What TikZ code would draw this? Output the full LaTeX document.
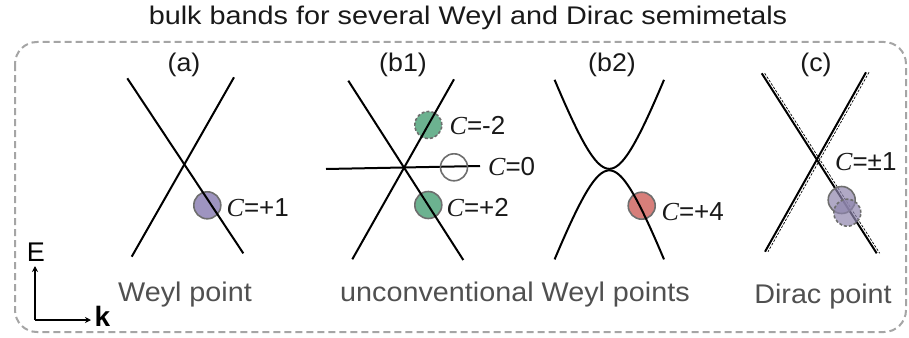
\documentclass[tikz,border=0pt]{standalone}
\usepackage{fontspec}
\setmainfont{Liberation Sans}
\newfontfamily\cfont{Liberation Serif}
\usetikzlibrary{arrows.meta}
\definecolor{boxgray}{RGB}{165,165,165}
\definecolor{bordergray}{RGB}{110,110,110}
\definecolor{labgray}{RGB}{80,80,80}
\definecolor{wpurple}{RGB}{158,148,192}
\definecolor{wgreen}{RGB}{108,178,144}
\definecolor{wred}{RGB}{215,126,122}
\newcommand{\Cq}{{\cfont\itshape C}}
\tikzset{
  band/.style={line width=2pt, black},
  chern/.style={circle, minimum size=27pt, inner sep=0pt, draw=bordergray, line width=1.6pt},
  chernlab/.style={anchor=base west, inner sep=0pt, font=\fontsize{26}{30}\selectfont, text=black!90},
  panel/.style={anchor=base, inner sep=0pt, font=\fontsize{25.5}{29}\selectfont, text=black!90},
  bottomlab/.style={anchor=base, inner sep=0pt, font=\fontsize{27}{31}\selectfont, text=labgray},
  shadow/.style={line width=0.7pt, dash pattern=on 2.5pt off 1.5pt, black}
}
\begin{document}
\begin{tikzpicture}[x=1pt,y=-1pt]
\useasboundingbox (0,0) rectangle (909,337);
% frame
\draw[boxgray, line width=2pt, dash pattern=on 7pt off 4pt, rounded corners=22pt] (15,42) rectangle (906,332);
% title
\node[anchor=base, inner sep=0pt, font=\fontsize{25.5}{29}\selectfont, text=black!90] (title) at (468,25) {\scalebox{1.13}[1]{bulk bands for several Weyl and Dirac semimetals}};
% panel labels
\node[panel] (pa) at (184,71) {\scalebox{1.05}[1]{(a)}};
\node[panel] (pb1) at (403,71) {\scalebox{1.05}[1]{(b1)}};
\node[panel] (pb2) at (612,71) {\scalebox{1.05}[1]{(b2)}};
\node[panel] (pc) at (816,71) {\scalebox{1.05}[1]{(c)}};

% ---------- (a)
\node[chern, fill=wpurple] (ca) at (207.3,205.3) {};
\coordinate (a1s) at (127.3,78.3); \coordinate (a1e) at (243.3,253.3);
\coordinate (a2s) at (234,77.3);   \coordinate (a2e) at (131.7,256.7);
\draw[band] (a1s) -- (a1e);
\draw[band] (a2s) -- (a2e);
\node[chernlab] (la) at (226.5,216.7) {\Cq=+1};

% ---------- (b1)
\node[chern, fill=wgreen, dashed, dash pattern=on 3pt off 2pt] (cb1) at (428.3,125) {};
\node[chern, fill=wgreen] (cb3) at (428.3,205) {};
\coordinate (b1s) at (348.3,80.7); \coordinate (b1e) at (463.3,260);
\coordinate (b2s) at (454,79.3);   \coordinate (b2e) at (352.3,259.3);
\coordinate (b3s) at (326,169);    \coordinate (b3e) at (480,166);
\draw[band] (b1s) -- (b1e);
\draw[band] (b2s) -- (b2e);
\draw[band] (b3s) -- (b3e);
\node[chern] (cb2) at (454,167.3) {};
\node[chernlab] (lb1) at (449.5,134) {\Cq=-2};
\node[chernlab] (lb2) at (488,175) {\Cq=0};
\node[chernlab] (lb3) at (446.5,216.7) {\Cq=+2};

% ---------- (b2)
\node[chern, fill=wred] (cb4) at (641.7,205.7) {};
\draw[band] plot[domain=-54.7:54.7, samples=81, smooth] ({609.3+\x},{168.8-2.66*(sqrt(\x*\x+784)-28)});
\draw[band] plot[domain=-54.7:54.7, samples=81, smooth] ({609.3+\x},{170.4+2.66*(sqrt(\x*\x+784)-28)});
\node[chernlab] (lb4) at (661.5,220) {\Cq=+4};

% ---------- (c)
\coordinate (c1s) at (761.7,73.3); \coordinate (c1e) at (876.7,253.3);
\coordinate (c2s) at (866,72.3);   \coordinate (c2e) at (765,251.7);
\draw[shadow] ([xshift=3pt]c1s) -- ([xshift=3pt]c1e);
\draw[shadow] ([xshift=3pt]c2s) -- ([xshift=3pt]c2e);
\draw[band] (c1s) -- (c1e);
\draw[band] (c2s) -- (c2e);
\node[chern, fill=wpurple!90!black, fill opacity=0.7] (cc1) at (841.7,200) {};
\node[chern, fill=wpurple!90!black, fill opacity=0.7, dash pattern=on 3pt off 2pt] (cc2) at (847.3,212.7) {};
\node[chernlab] (lc) at (835,170) {\Cq=±1};

% bottom labels
\node[bottomlab] (wa) at (185,301.7) {\scalebox{1.065}[1]{Weyl point}};
\node[bottomlab] (wb) at (515,301.7) {\scalebox{1.065}[1]{unconventional Weyl points}};
\node[bottomlab] (wc) at (823,303) {\scalebox{1.065}[1]{Dirac point}};

% axes
\coordinate (O) at (35,320);
\coordinate (Eend) at (35,266);
\coordinate (kend) at (91,320);
\draw[line width=1.6pt, -{Stealth[length=6pt,width=6pt]}] (O) -- (Eend);
\draw[line width=1.6pt, -{Stealth[length=6pt,width=6pt]}] (O) -- (kend);
\node[anchor=base, inner sep=0pt, font=\fontsize{27}{31}\selectfont] (E) at (36,261.7) {E};
\node[anchor=base west, inner sep=0pt, font=\fontsize{28}{32}\selectfont\bfseries] (k) at (94.5,326.7) {k};
\end{tikzpicture}
\end{document}
